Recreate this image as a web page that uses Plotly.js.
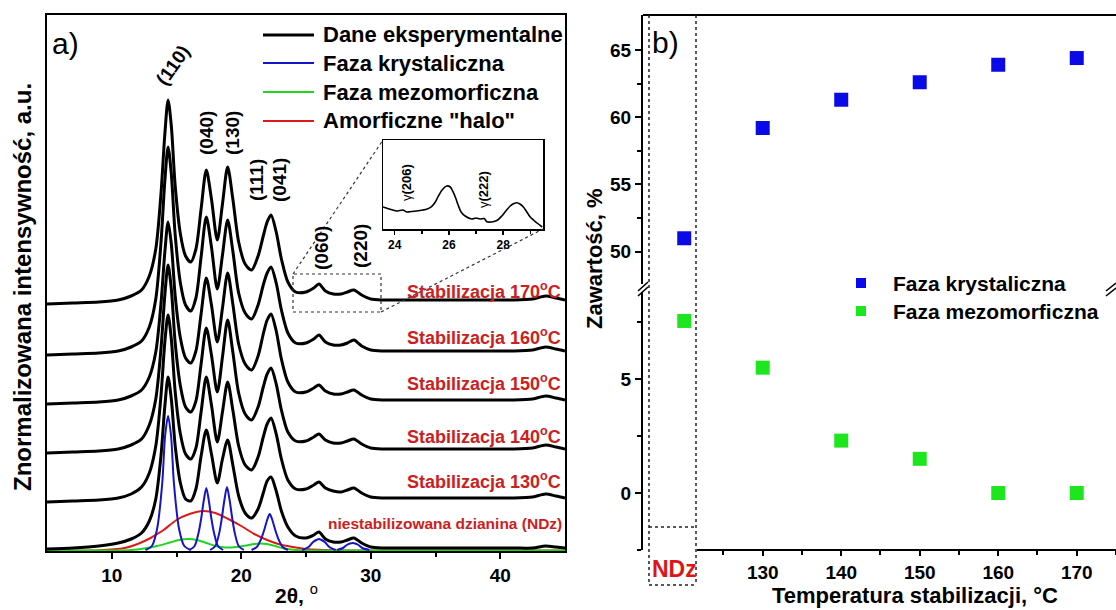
<!DOCTYPE html>
<html><head><meta charset="utf-8">
<script src="https://cdn.plot.ly/plotly-3.0.1.min.js"></script>
<style>html,body{margin:0;padding:0;background:#fff}#chart{width:1116px;height:610px}</style>
</head><body><div id="chart"></div>
<script>
const W = 1116, H = 610;
const PX = x => x / W, PY = y => 1 - y / H;
const FONT = "Arial, 'Liberation Sans', sans-serif";

// ---------------- panel a: XRD patterns (offset as drawn) ----------------
const twoTheta = [5,7,9,10.5,11.5, 12.3,12.9,13.4,13.8,14.1, 14.35,14.6,14.9,15.3,15.7, 16.1,16.5,16.9,17.3,17.7,
  18.15,18.55,18.95,19.35,19.8, 20.3,20.8,21.3,21.7,22.0, 22.3,22.7,23.1,23.6,24.2, 25.0,25.6,26.0,26.5,27.1,
  27.7,28.2,28.7,29.3,30.0, 31,33,36,39,41, 42.5,43.5,44.3,45];
const int170 = [247,248,249,251,255, 261,275,302,357,417, 451,425,365,317,295, 289,302,342,381,352, 311,347,384,352,309, 287,281,295,315,329, 336,319,292,269,259, 259,263,267,260,257, 257,259,261,256,252, 251,251,251,251,251, 252,255,253,251];
const int160 = [196,197,198,200,204, 210,224,252,308,370, 404,377,316,268,246, 240,253,294,334,304, 262,296,331,300,258, 238,232,246,266,278, 284,268,241,218,208, 208,212,216,209,206, 206,208,211,205,201, 200,200,200,200,200, 201,204,202,200];
const int150 = [147,148,149,151,155, 161,174,199,247,299, 329,307,255,213,193, 188,200,237,273,246, 209,243,278,247,207, 187,181,195,217,231, 237,220,192,169,159, 159,163,166,160,157, 157,159,161,156,152, 151,151,151,151,151, 152,155,153,151];
const int140 = [98,99,100,102,106, 112,126,152,202,256, 286,262,208,165,144, 139,150,187,223,196, 159,194,231,199,158, 137,131,144,164,177, 183,167,141,119,110, 110,114,117,111,108, 108,110,112,107,103, 102,102,102,102,102, 103,106,104,102];
const int130 = [49,50,51,53,57, 64,78,105,155,209, 236,212,159,117,97, 92,103,139,174,146, 109,139,169,141,105, 86,81,94,114,127, 133,117,92,71,62, 62,66,69,63,60, 59,61,63,58,54, 53,53,53,53,53, 54,57,55,53];
const intNDz = [2,3,5,8,12, 18,30,52,95,145, 174,152,105,68,52, 50,62,95,121,97, 68,92,111,86,55, 38,33,42,58,70, 74,60,40,24,15, 13,16,19,12,9, 9,11,13,8,4, 3,3,3,3,3, 3,5,4,3];

// deconvolution of NDz pattern
const cryst110X = [12.6,13.1,13.5,13.9,14.12,14.35,14.58,14.8,15.2,15.6,16.1];
const cryst110Y = [1,5,22,68,115,135,115,68,22,5,1];
const cryst040X = [16.0,16.4,16.7,16.9,17.1,17.3,17.5,17.7,17.9,18.2,18.6];
const cryst040Y = [1,5,18,32,50,63,50,32,18,5,1];
const cryst130X = [17.6,18.0,18.3,18.5,18.7,18.9,19.1,19.3,19.5,19.8,20.2];
const cryst130Y = [1,5,18,33,51,64,51,33,18,5,1];
const cryst111X = [20.8,21.2,21.5,21.75,22.0,22.2,22.4,22.65,22.9,23.2,23.6];
const cryst111Y = [1,4,11,20,31,37,31,20,11,4,1];
const cryst060X = [24.7,25.2,25.55,25.8,26.0,26.2,26.45,26.8,27.3];
const cryst060Y = [1,4,9,11,12,11,9,4,1];
const cryst220X = [27.4,27.85,28.15,28.4,28.6,28.8,29.05,29.35,29.9];
const cryst220Y = [1,3,6,7.5,8,7.5,6,3,1];
const mesoX = [5,10,11.5,12.5,13.5,14.5,15.2,15.9,16.6,17.3,18.0,18.8,19.6,20.4,21.0,21.5,22.0,22.6,23.3,24.2,25,30,45];
const mesoY = [0.5,0.5,1,2.5,5,8.5,11,12,11,8,5,3.5,4,5.5,7,7.5,7,5,2.5,1,0.5,0.5,0.5];
const amorX = [5,9,11,12,13,13.5,14,15,16,17.1,18,19,20,21,22,23,24,25,26,28,30,35,40,45];
const amorY = [0.5,0.7,3,7,13,17,21,31,37,40,38,32,25,17,11,6.5,4,2,1.2,0.6,0.5,0.5,0.5,0.5];

// inset (170 °C pattern, 23.5–29.5°)
const insetX = [23.57,23.8,24.07,24.3,24.45,24.56,24.8,25.04,25.2,25.36,25.5,25.6,25.75,25.92,26.05,26.15,26.25,26.34,26.45,26.6,26.84,27.0,27.15,27.3,27.4,27.63,27.8,27.95,28.1,28.26,28.4,28.51,28.62,28.74,28.85,29.0,29.25,29.44];
const insetY = [22,20,18,19,17,17.3,18,19,20,22.3,27,32.3,39,43,42,37.3,31,24,17,13,10,11,10,10.5,7.3,7.3,9,13,18,23,25.5,26.3,25,22.3,18,12,6,2];

// ---------------- panel b: phase content ----------------
const bPositions = [120,130,140,150,160,170];   // 120 = column of NDz
const bTicks = [130,140,150,160,170];
const crystalline = [51.0,59.2,61.3,62.6,63.9,64.4];
const mesomorphic = [7.55,5.5,2.3,1.5,0,0];

const BLK = '#000000', BLUE = '#1515c8', GREEN = '#22d422', RED = '#dd1a1a', LRED = '#cc2020';
const traces = [];
function line(x, y, color, w, xa, ya) {
  traces.push({x, y, type:'scatter', mode:'lines', xaxis:xa||'x', yaxis:ya||'y', showlegend:false, hoverinfo:'skip',
    line:{color, width:w, shape:'spline', smoothing:0.8}});
}
line(amorX, amorY, RED, 2);
line(mesoX, mesoY, GREEN, 2);
[[cryst110X,cryst110Y],[cryst040X,cryst040Y],[cryst130X,cryst130Y],[cryst111X,cryst111Y],[cryst060X,cryst060Y],[cryst220X,cryst220Y]]
  .forEach(p => line(p[0], p[1], BLUE, 2));
[intNDz,int130,int140,int150,int160,int170].forEach(v => line(twoTheta, v, BLK, 3));
line(insetX, insetY, BLK, 1.6, 'x3', 'y4');

traces.push({x:bPositions, y:crystalline, type:'scatter', mode:'markers', xaxis:'x2', yaxis:'y3', showlegend:false,
  marker:{symbol:'square', size:14, color:'#0a0ae6'}});
traces.push({x:bPositions, y:mesomorphic, type:'scatter', mode:'markers', xaxis:'x2', yaxis:'y2', showlegend:false,
  marker:{symbol:'square', size:14, color:'#1ee61e'}});

const tf = s => ({family:FONT, size:s, color:'#000', weight:'bold'});

const layout = {
  width:W, height:H, margin:{l:0,r:0,t:0,b:0}, paper_bgcolor:'#fff', plot_bgcolor:'rgba(0,0,0,0)',
  font:{family:FONT, color:'#000'},
  xaxis:{domain:[PX(47),PX(565)], range:[5,45], anchor:'y', showline:true, linewidth:2, linecolor:'#000', mirror:true,
    ticks:'outside', ticklen:6, tickwidth:2, tickcolor:'#000', tickvals:[10,20,30,40], tickfont:tf(19),
    minor:{tickvals:[15,25,35], ticks:'outside', ticklen:4, tickwidth:2, tickcolor:'#000'},
    showgrid:false, zeroline:false, fixedrange:true},
  yaxis:{domain:[PY(551),PY(15)], range:[0,536], anchor:'x', showline:true, linewidth:2, linecolor:'#000', mirror:true,
    ticks:'', showticklabels:false, showgrid:false, zeroline:false},
  xaxis2:{domain:[PX(643),1], range:[114.75,175], anchor:'y2', showline:false, ticks:'outside', ticklen:5, tickwidth:2,
    tickcolor:'#000', tickvals:bTicks, tickfont:tf(19),
    minor:{tickvals:[125,135,145,155,165,175], ticks:'outside', ticklen:4, tickwidth:2, tickcolor:'#000'},
    showgrid:false, zeroline:false},
  yaxis2:{domain:[PY(550),PY(292)], range:[-2.5,8.82], anchor:'x2', showline:true, linewidth:2, linecolor:'#000',
    ticks:'outside', ticklen:6, tickwidth:2, tickcolor:'#000', tickvals:[0,5], tickfont:tf(19),
    minor:{tickvals:[-2.5,2.5,7.5], ticks:'outside', ticklen:4, tickwidth:2, tickcolor:'#000'},
    showgrid:false, zeroline:false},
  yaxis3:{domain:[PY(284),PY(15)], range:[47.6,67.6], anchor:'x2', showline:true, linewidth:2, linecolor:'#000',
    ticks:'outside', ticklen:6, tickwidth:2, tickcolor:'#000', tickvals:[50,55,60,65], tickfont:tf(19),
    minor:{tickvals:[52.5,57.5,62.5], ticks:'outside', ticklen:4, tickwidth:2, tickcolor:'#000'},
    showgrid:false, zeroline:false},
  xaxis3:{domain:[PX(383),PX(543)], range:[23.57,29.47], anchor:'y4', showline:true, linewidth:1.5, linecolor:'#000', mirror:true,
    ticks:'outside', ticklen:4, tickwidth:1.5, tickcolor:'#000', tickvals:[24,26,28], tickfont:tf(12),
    minor:{tickvals:[25,27,29], ticks:'outside', ticklen:3, tickwidth:1.5, tickcolor:'#000'},
    showgrid:false, zeroline:false},
  yaxis4:{domain:[PY(229),PY(140)], range:[0,89], anchor:'x3', showline:true, linewidth:1.5, linecolor:'#000', mirror:true,
    ticks:'', showticklabels:false, showgrid:false, zeroline:false},
  shapes:[], annotations:[]
};

const S = layout.shapes, A = layout.annotations;
function seg(x0,y0,x1,y1,color,w,dash){ S.push({type:'line', xref:'paper', yref:'paper', x0:PX(x0), y0:PY(y0), x1:PX(x1), y1:PY(y1), line:{color, width:w, dash:dash||'solid'}}); }
function txt(x,y,text,size,opts){ A.push(Object.assign({xref:'paper', yref:'paper', x:PX(x), y:PY(y), text, showarrow:false,
  font:{family:FONT, size, color:'#000'}, xanchor:'center', yanchor:'middle'}, opts||{})); }

// panel a legend
[['Dane eksperymentalne',BLK,3,35],['Faza krystaliczna',BLUE,2,63],['Faza mezomorficzna',GREEN,2,92],['Amorficzne "halo"',RED,2,121]]
  .forEach(r => { seg(263,r[3],314,r[3],r[1],r[2]); txt(321,r[3],'<b>'+r[0]+'</b>',22,{xanchor:'left'}); });
txt(65,43,'a)',30);
// peak labels
txt(173,66,'<b>(110)</b>',19,{textangle:-55});
txt(207,133,'<b>(040)</b>',19,{textangle:-90});
txt(233,133,'<b>(130)</b>',19,{textangle:-90});
txt(256,180,'<b>(111)</b>',19,{textangle:-90});
txt(279,180,'<b>(041)</b>',19,{textangle:-90});
txt(321,248,'<b>(060)</b>',19,{textangle:-90});
txt(360,246,'<b>(220)</b>',19,{textangle:-90});
// curve labels
[['170',290],['160',336],['150',382],['140',435],['130',480]].forEach(r =>
  txt(563,r[1],'<b>Stabilizacja '+r[0]+'<sup>o</sup>C</b>',18,{xanchor:'right', font:{family:FONT,size:18,color:LRED}}));
txt(564,523,'<b>niestabilizowana dzianina (NDz)</b>',15.5,{xanchor:'right', font:{family:FONT,size:15.5,color:LRED}});
// inset labels and zoom lines
txt(406,183,'γ<b>(206)</b>',13,{textangle:-90});
txt(483,190,'γ<b>(222)</b>',13,{textangle:-90});
S.push({type:'rect', xref:'paper', yref:'paper', x0:PX(293), x1:PX(381), y0:PY(312), y1:PY(274), line:{color:'#333', width:1.2, dash:'dot'}});
seg(293,274,383,140,'#333',1.2,'dot');
seg(381,312,543,229,'#333',1.2,'dot');
// axis titles a
txt(296,594,'<b>2θ, </b><sup>o</sup>',21);
txt(23,287,'<b>Znormalizowana intensywność, a.u.</b>',24,{textangle:-90});

// panel b decorations
seg(643,15,1116,15,'#000',2);
seg(697,550,1116,550,'#000',2);
seg(649,15,649,585,'#222',1.5,'dot');
seg(696,15,696,585,'#222',1.5,'dot');
seg(649,527,696,527,'#222',1.5,'dot');
seg(649,585,696,585,'#222',1.5,'dot');
seg(638,291,648,282,'#000',1.6); seg(638,296,648,287,'#000',1.6);
seg(1106,291,1116,283,'#000',1.6); seg(1106,296,1116,288,'#000',1.6);
txt(665,42,'b)',30);
txt(674,569,'<b>NDz</b>',23,{font:{family:FONT,size:23,color:'#dd1515'}});
S.push({type:'rect', xref:'paper', yref:'paper', x0:PX(856), x1:PX(866), y0:PY(288), y1:PY(278), line:{width:0}, fillcolor:'#0a0ae6'});
S.push({type:'rect', xref:'paper', yref:'paper', x0:PX(856), x1:PX(866), y0:PY(316), y1:PY(306), line:{width:0}, fillcolor:'#1ee61e'});
txt(891,283,'<b>Faza krystaliczna</b>',21,{xanchor:'left'});
txt(891,311,'<b>Faza mezomorficzna</b>',21,{xanchor:'left'});
txt(915,595,'<b>Temperatura stabilizacji, °C</b>',22);
txt(594,259,'<b>Zawartość, %</b>',22,{textangle:-90});

Plotly.newPlot('chart', traces, layout, {staticPlot:true, displayModeBar:false});
</script></body></html>
